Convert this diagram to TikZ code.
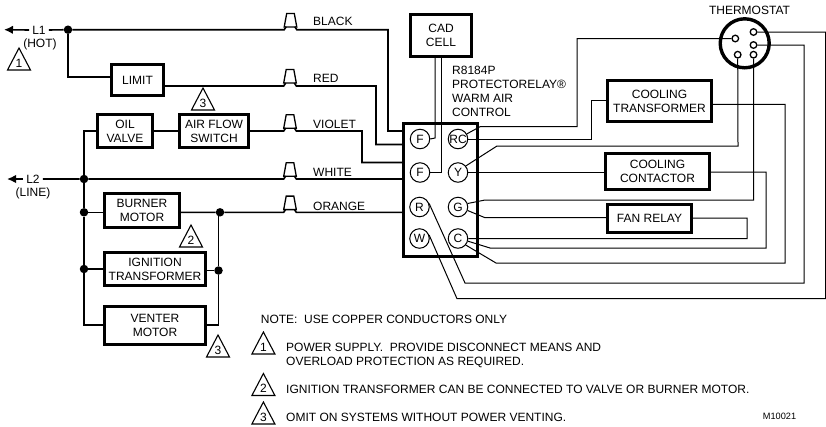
\documentclass[tikz,border=0pt]{standalone}
\usepackage{fontspec}
\setmainfont{Liberation Sans}
\usetikzlibrary{arrows.meta}
\tikzset{
  box/.style={draw,line width=3.3pt,fill=white,align=center,inner sep=0pt,font=\lbl},
  wire/.style={line width=1.6pt},
  thin wire/.style={line width=1pt},
  dotn/.style={circle,fill=black,inner sep=0pt,minimum size=8.5pt},
  pinc/.style={circle,draw,line width=1pt,fill=white,minimum size=19.5pt,inner sep=0pt,font=\lbl},
  tpin/.style={circle,draw,line width=1.3pt,fill=white,minimum size=6.6pt,inner sep=0pt},
  nutp/.style={draw,line width=1.3pt,fill=white,line join=miter},
  lab/.style={font=\lbl,inner sep=0pt,align=left},
  labc/.style={font=\lbl,inner sep=0pt,align=center},
  arr/.style={wire,-{Latex[length=9pt,width=8.5pt]}},
  tri/.style={draw,line width=1.1pt,line join=miter},
  trinum/.style={font=\lbl,inner sep=0pt}
}
\newcommand{\lbl}{\fontsize{12}{13.8}\selectfont}
\newcommand{\warn}[4]{% name, apex x, apex y, number
  \draw[tri] (#2-11.5,#3+22) -- (#2,#3) -- (#2+11.5,#3+22) -- cycle;
  \node[trinum] (#1) at (#2,#3+15) {#4};}
\newcommand{\nutn}[3]{% name, centre x, bottom y
  \draw[nutp] (#2-6.3,#3) -- (#2-3.8,#3-13.5) -- (#2+3.8,#3-13.5) -- (#2+6.3,#3) -- cycle;
  \coordinate (#1L) at (#2-6.3,#3);
  \coordinate (#1R) at (#2+6.3,#3);}
\begin{document}
\begin{tikzpicture}[x=1pt,y=-1pt]
\useasboundingbox (0,0) rectangle (826,426);
% nodes
\node[box,minimum width=52,minimum height=31] (limit) at (137.5,80) {LIMIT};
\node[box,minimum width=55,minimum height=33] (oil) at (125,131) {OIL\\VALVE};
\node[box,minimum width=69,minimum height=33] (afs) at (214,131) {AIR FLOW\\SWITCH};
\node[box,minimum width=75,minimum height=34] (burner) at (142,210.5) {BURNER\\MOTOR};
\node[box,minimum width=101,minimum height=33] (ign) at (155,269) {IGNITION\\TRANSFORMER};
\node[box,minimum width=101,minimum height=38] (vent) at (155,325.5) {VENTER\\MOTOR};
\node[box,minimum width=61,minimum height=42] (cad) at (441,35.5) {CAD\\CELL};
\node[box,minimum width=104,minimum height=41] (ctr) at (659.5,101) {COOLING\\TRANSFORMER};
\node[box,minimum width=104,minimum height=36] (cct) at (657.5,171.5) {COOLING\\CONTACTOR};
\node[box,minimum width=84,minimum height=28] (fan) at (649.5,218.5) {FAN RELAY};
\node[draw,line width=3.4pt,minimum width=74,minimum height=133,inner sep=0pt] (blk) at (440.5,190) {};
\node[pinc] (pf1) at (420,139) {F};
\node[pinc] (pf2) at (420,172.5) {F};
\node[pinc] (pr) at (419.5,207) {R};
\node[pinc] (pw) at (419.5,238.5) {W};
\node[pinc] (prc) at (458,139) {RC};
\node[pinc] (py) at (458,172.5) {Y};
\node[pinc] (pg) at (458,207) {G};
\node[pinc] (pc) at (458,238.5) {C};
\node[circle,draw,line width=3.4pt,minimum size=49pt,inner sep=0pt] (ts) at (744.7,43.3) {};
\node[tpin] (t1) at (735.3,38.5) {};
\node[tpin] (t2) at (753.5,32) {};
\node[tpin] (t3) at (753.5,45) {};
\node[tpin] (t4) at (737.7,54.7) {};
\node[tpin] (t5) at (753.5,54.7) {};
\node[dotn] (d1) at (68,29.7) {};
\node[dotn] (d2) at (84,179) {};
\node[dotn] (d3) at (84,212.3) {};
\node[dotn] (d4) at (84,269) {};
\node[dotn] (d5) at (220,212.3) {};
\node[dotn] (d6) at (218.5,270.5) {};
\nutn{nb}{290.5}{27}
\nutn{nr}{290}{83}
\nutn{nv}{290}{128.3}
\nutn{nw}{290}{176.3}
\nutn{no}{290}{209.6}
\node[labc] (l1) at (39,30) {L1};
\node[labc] (l2) at (33,179) {L2};
\node[labc] at (40,44) {(HOT)};
\node[labc] at (33,193) {(LINE)};
\coordinate (l1tip) at (4,29.7);
\coordinate (l2tip) at (7,179);
% mains wires
\draw[arr] ([xshift=-3pt]l1.west) -- (l1tip);
\draw[arr] ([xshift=-3pt]l2.west) -- (l2tip);
\draw[wire] ([xshift=3pt]l1.east) -- (d1) -- (nbL |- d1) -- ++(2,-3);
\draw[wire] ([xshift=3pt]l2.east) -- (d2) -- (nwL |- d2) -- ++(2,-3);
\draw[wire] (nbR |- d1) ++(-2,-3) -- ++(2,3) -- (388,29.7) -- (388,131) -- (blk.west |- 0,131);
\draw[wire] (d1) -- (68,77) -- (limit.west |- 0,77);
\draw[wire] (limit.east |- 0,86) -- (nrL |- 0,86) -- ++(2,-3);
\draw[wire] (nrR |- 0,86) ++(-2,-3) -- ++(2,3) -- (376,86) -- (376,144.5) -- (blk.west |- 0,144.5);
\draw[wire] (oil) -- (afs);
\draw[wire] (oil.west) -- (84,131) -- (d2) -- (d3) -- (d4) -- (84,325) -- (vent.west |- 0,325);
\draw[wire] (afs.east) -- (nvL |- afs.east) -- ++(2,-3);
\draw[wire] (nvR |- afs.east) ++(-2,-3) -- ++(2,3) -- (362,131) -- (362,162.5) -- (blk.west |- 0,162.5);
\draw[wire] (nwR |- d2) ++(-2,-3) -- ++(2,3) -- (blk.west |- d2);
\draw[wire] (d3) -- (burner.west |- d3);
\draw[wire] (burner.east |- d3) -- (d5) -- (noL |- d3) -- ++(2,-3);
\draw[wire] (noR |- d3) ++(-2,-3) -- ++(2,3) -- (blk.west |- d3);
\draw[wire] (d4) -- (ign.west |- d4);
\draw[wire] (ign.east |- d6) -- (d6);
\draw[wire] (d6 |- d5) -- (d6) -- (d6 |- 0,325) -- (vent.east |- 0,325);
% control wires
\draw[thin wire] (cad.south -| 435,0) -- (435,138) -- (pf1.east);
\draw[thin wire] (cad.south -| 441,0) -- (441,172.5) -- (pf2.east);
\draw[thin wire] (prc.30) -- (480,126.7) -- (577,126.7) -- (577,38.5) -- (t1.west);
\draw[thin wire] (prc.east) -- (591,139) -- (591,100.3) -- (ctr.west |- 0,100.3);
\draw[thin wire] (ctr.east |- 0,104.3) -- (785,104.3) -- (785,263) -- (496,263) -- (pc.-40);
\draw[thin wire] (py.40) -- (497,146) -- (738,146) -- (t4.south);
\draw[thin wire] (py.east) -- (cct.west |- py);
\draw[thin wire] (cct.east |- 0,172) -- (766,172) -- (766,248) -- (490,248) -- (pc.-15);
\draw[thin wire] (pg.20) -- (485,200) -- (753.5,200) -- (t5.south);
\draw[thin wire] (pg.-20) -- (485,217.7) -- (fan.west |- 0,217.7);
\draw[thin wire] (fan.east |- 0,218) -- (747,218) -- (747,238.7) -- (pc.east);
\draw[thin wire] (pr.20) -- (465,283) -- (804,283) -- (804,45) -- (t3.east);
\draw[thin wire] (pw.20) -- (457,298.7) -- (825.5,298.7) -- (825.5,32) -- (t2.east);
% text labels
\node[lab,anchor=west] at (313,21.5) {BLACK};
\node[lab,anchor=west] at (313,78) {RED};
\node[lab,anchor=west] at (313,124) {VIOLET};
\node[lab,anchor=west] at (313,172) {WHITE};
\node[lab,anchor=west] at (313,206) {ORANGE};
\node[lab,anchor=base west] at (452,74) {R8184P};
\node[lab,anchor=base west] at (452,88) {PROTECTORELAY®};
\node[lab,anchor=base west] at (452,102) {WARM AIR};
\node[lab,anchor=base west] at (452,116) {CONTROL};
\node[labc] at (749.5,10) {THERMOSTAT};
\node[lab,anchor=base west] at (260.7,323) {NOTE:\ \ USE COPPER CONDUCTORS ONLY};
\node[lab,anchor=base west] at (286,351) {POWER SUPPLY.\ \ PROVIDE DISCONNECT MEANS AND};
\node[lab,anchor=base west] at (286,365) {OVERLOAD PROTECTION AS REQUIRED.};
\node[lab,anchor=base west] at (286,393.5) {IGNITION TRANSFORMER CAN BE CONNECTED TO VALVE OR BURNER MOTOR.};
\node[lab,anchor=base west] at (286,421.5) {OMIT ON SYSTEMS WITHOUT POWER VENTING.};
\node[font=\fontsize{9.2}{11}\selectfont,inner sep=0pt,anchor=base west] at (762.7,419) {M10021};
% warning triangles
\warn{w1}{19}{48}{1}
\warn{w3a}{203}{88}{3}
\warn{w2}{191}{225}{2}
\warn{w3b}{218}{335}{3}
\warn{w4}{263.4}{332}{1}
\warn{w5}{263.4}{373.5}{2}
\warn{w6}{263.4}{402}{3}
\end{tikzpicture}
\end{document}
